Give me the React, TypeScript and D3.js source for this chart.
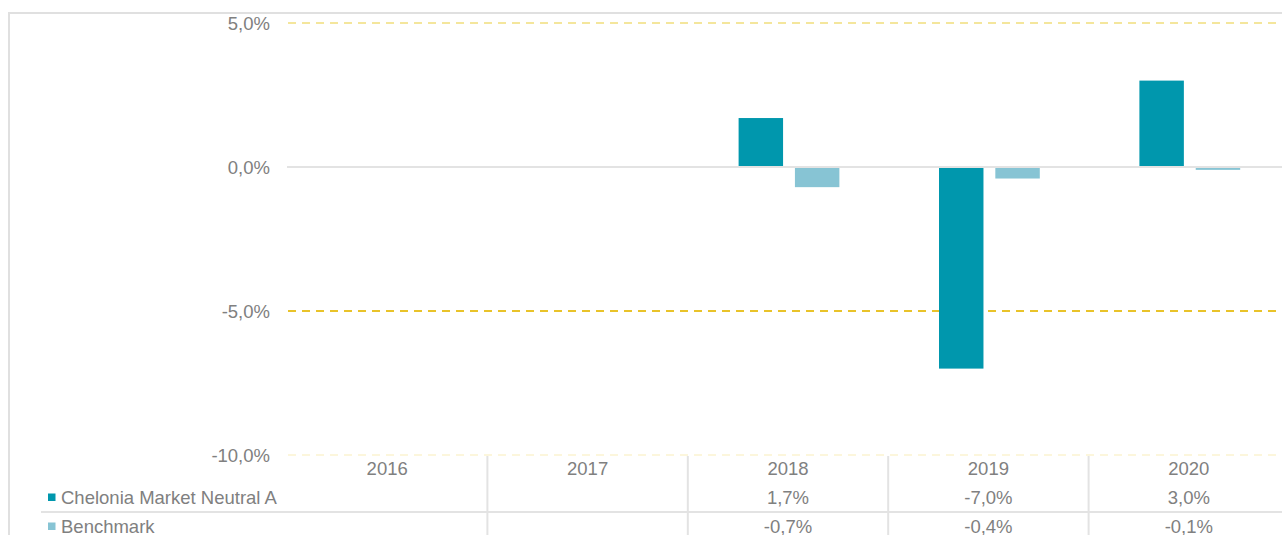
import React from "react";
import * as d3 from "d3";

const years = ["2016", "2017", "2018", "2019", "2020"];
const seriesNames = ["Chelonia Market Neutral A", "Benchmark"];
const fundValues: (number | null)[] = [null, null, 1.7, -7.0, 3.0];
const benchValues: (number | null)[] = [null, null, -0.7, -0.4, -0.1];
const yTicks = [5, 0, -5, -10];
const seriesColors = ["#0097ad", "#87c4d4"];

const W = 1282;
const H = 535;
const plotLeft = 287;
const bandStep = 200.4;
const plotTop = 23;
const plotBottom = 455;
const font = "'Liberation Sans', Arial, sans-serif";
const textColor = "#808080";
const fmt = (v: number) => v.toFixed(1).replace(".", ",") + "%";

export default function App() {
  const x = d3
    .scaleBand<string>()
    .domain(years)
    .range([plotLeft, plotLeft + bandStep * years.length])
    .padding(0);
  const inner = d3
    .scaleBand<string>()
    .domain(seriesNames)
    .range([0, x.bandwidth()])
    .paddingInner(12 / 57)
    .paddingOuter(50.4 / 57)
    .align(0.51);
  const y = d3.scaleLinear().domain([-10, 5]).range([plotBottom, plotTop]);
  const series = [fundValues, benchValues];

  const gridStyle = (t: number) => {
    if (t === -5) return { stroke: "#e9c32a", width: 2 };
    if (t === 5) return { stroke: "#f4e69c", width: 2 };
    return { stroke: "#fcf6dc", width: 2 };
  };

  const rowY = [468, 497, 526];

  return (
    <svg
      width={W}
      height={H}
      style={{ position: "absolute", left: 0, top: 0, background: "#fff" }}
      fontFamily={font}
    >
      <rect x={9} y={13} width={W + 20} height={H + 20} fill="none" stroke="#e0e0e0" strokeWidth={2} />
      {yTicks.map((t) => {
        if (t === 0) return null;
        const s = gridStyle(t);
        return (
          <line
            key={"g" + t}
            x1={plotLeft + 1}
            x2={W}
            y1={y(t)}
            y2={y(t)}
            stroke={s.stroke}
            strokeWidth={s.width}
            strokeDasharray="8,6"
          />
        );
      })}
      {yTicks.map((t) => (
        <text
          key={"t" + t}
          x={270}
          y={y(t)}
          dy="0.4em"
          textAnchor="end"
          fontSize={18.5}
          fill={textColor}
        >
          {fmt(t)}
        </text>
      ))}
      {years.map((yr, i) =>
        series.map((vals, si) => {
          const v = vals[i];
          if (v === null) return null;
          const x0 = (x(yr) as number) + (inner(seriesNames[si]) as number);
          const y0 = Math.min(y(v), y(0));
          const h = Math.abs(y(v) - y(0));
          return (
            <rect
              key={yr + si}
              x={x0}
              y={y0}
              width={inner.bandwidth()}
              height={h}
              fill={seriesColors[si]}
            />
          );
        })
      )}
      <line x1={plotLeft} x2={W} y1={y(0)} y2={y(0)} stroke="#e3e3e3" strokeWidth={2} />
      {/* data table */}
      {years.slice(1).map((yr) => (
        <line
          key={"v" + yr}
          x1={x(yr) as number}
          x2={x(yr) as number}
          y1={plotBottom + 1}
          y2={H}
          stroke="#e3e3e3"
          strokeWidth={2}
        />
      ))}
      <line x1={41} x2={W} y1={512} y2={512} stroke="#e3e3e3" strokeWidth={2} />
      {years.map((yr) => (
        <text
          key={"h" + yr}
          x={(x(yr) as number) + x.bandwidth() / 2}
          y={rowY[0]}
          dy="0.4em"
          textAnchor="middle"
          fontSize={18.5}
          fill={textColor}
        >
          {yr}
        </text>
      ))}
      {seriesNames.map((name, si) => (
        <g key={name}>
          <rect x={48} y={rowY[si + 1] - 3.5} width={7.5} height={7.5} fill={seriesColors[si]} />
          <text x={61} y={rowY[si + 1]} dy="0.4em" fontSize={18.5} fill={textColor}>
            {name}
          </text>
          {years.map((yr, i) => {
            const v = series[si][i];
            if (v === null) return null;
            return (
              <text
                key={yr}
                x={(x(yr) as number) + x.bandwidth() / 2}
                y={rowY[si + 1]}
                dy="0.4em"
                textAnchor="middle"
                fontSize={18.5}
                fill={textColor}
              >
                {fmt(v)}
              </text>
            );
          })}
        </g>
      ))}
    </svg>
  );
}
